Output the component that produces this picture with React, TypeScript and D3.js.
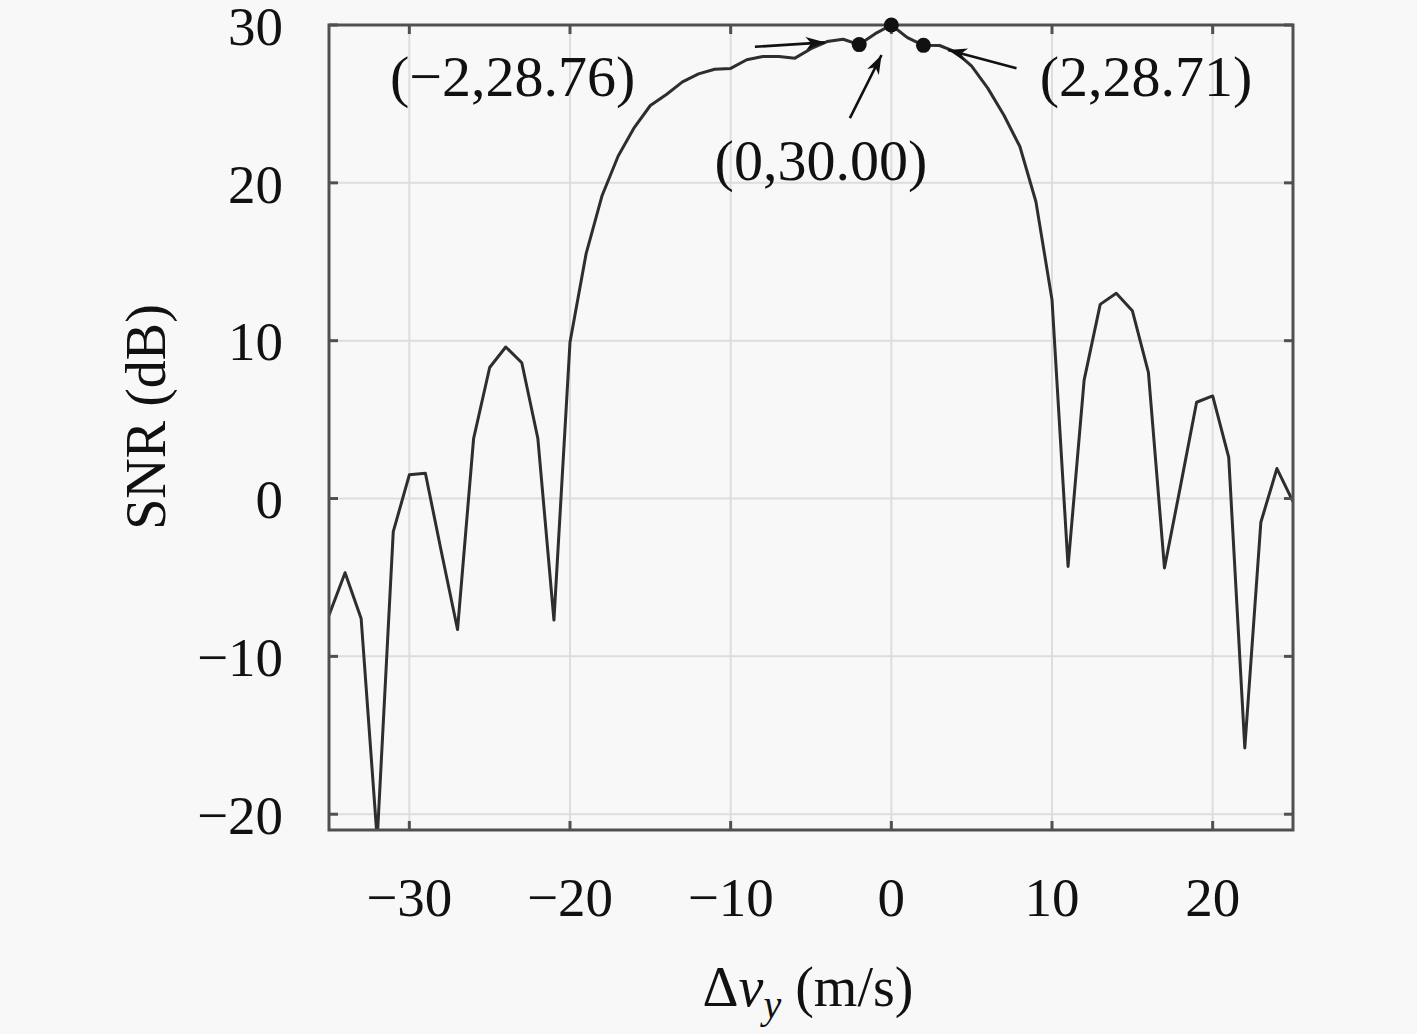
import React from 'react';
import * as d3 from 'd3';

// velocity mismatch (m/s) and SNR (dB)
const dv = [
  -35, -34, -33, -32, -31, -30, -29, -28, -27, -26, -25, -24, -23, -22, -21, -20,
  -19, -18, -17, -16, -15, -14, -13, -12, -11, -10, -9, -8, -7, -6, -5, -4, -3,
  -2, -1, 0, 1, 2, 3, 4, 5, 6, 7, 8, 9, 10, 11, 12, 13, 14, 15, 16, 17, 18, 19,
  20, 21, 22, 23, 24, 25,
];
const snr = [
  -7.4, -4.7, -7.6, -21.6, -2.1, 1.5, 1.6, -3.4, -8.3, 3.8, 8.3, 9.6, 8.6, 3.8, -7.7, 9.9,
  15.5, 19.2, 21.7, 23.5, 24.9, 25.6, 26.4, 26.9, 27.2, 27.25, 27.8, 28.0, 28.0, 27.9, 28.5,
  28.95, 29.1, 28.76, 29.45, 30.0, 29.2, 28.71, 28.7, 28.3, 27.4, 26.0, 24.3, 22.3, 18.8,
  12.6, -4.3, 7.5, 12.3, 13.0, 11.9, 8.0, -4.4, 0.8, 6.1, 6.5, 2.6, -15.8, -1.5, 1.9, -0.2,
];

const xTicks = [-30, -20, -10, 0, 10, 20];
const yTicks = [-20, -10, 0, 10, 20, 30];

// highlighted samples
const markX = [-2, 0, 2];
const markY = [28.76, 30.0, 28.71];

// annotation texts, anchored in data units
const noteText = ['(\u22122,28.76)', '(0,30.00)', '(2,28.71)'];
const noteX = [-31.2, -11.0, 9.24];
const noteY = [25.5, 20.2, 25.5];
// arrow tail -> head
const arrowFrom = [[-8.49, 28.62], [-2.58, 24.1], [7.79, 27.26]];
const arrowTo = [[-4.14, 28.9], [-0.61, 28.1], [3.53, 28.42]];

const W = 1417;
const H = 1034;
const box = { left: 329, right: 1293, top: 25, bottom: 830 };
const font = '"Liberation Serif", "DejaVu Serif", serif';

const fmt = (v: number) => (v < 0 ? '\u2212' + Math.abs(v) : String(v));

function arrowHead(x0: number, y0: number, x1: number, y1: number) {
  const dx = x1 - x0;
  const dy = y1 - y0;
  const len = Math.hypot(dx, dy);
  const ux = dx / len;
  const uy = dy / len;
  const L = 19;
  const w = 6.5;
  const bx = x1 - ux * L;
  const by = y1 - uy * L;
  const nx = x1 - ux * L * 0.72;
  const ny = y1 - uy * L * 0.72;
  return `M${x1},${y1}L${bx - uy * w},${by + ux * w}L${nx},${ny}L${bx + uy * w},${by - ux * w}Z`;
}

export default function App() {
  const x = d3.scaleLinear().domain([-35, 25]).range([box.left, box.right]);
  const y = d3.scaleLinear().domain([-21, 30]).range([box.bottom, box.top]);

  const path = d3
    .line<number>()
    .x((_, i) => x(dv[i]))
    .y((d) => y(d))(snr) as string;

  const tick = 9;

  return (
    <svg
      width={W}
      height={H}
      viewBox={`0 0 ${W} ${H}`}
      style={{ position: 'absolute', left: 0, top: 0, display: 'block' }}
      fontFamily={font}
    >
      <defs>
        <clipPath id="plotClip">
          <rect x={box.left} y={box.top - 2} width={box.right - box.left} height={box.bottom - box.top + 2} />
        </clipPath>
      </defs>
      <rect width={W} height={H} fill="#f8f8f8" />

      {/* grid */}
      <g stroke="#dddddd" strokeWidth={2}>
        {xTicks.map((t) => (
          <line key={'gx' + t} x1={x(t)} x2={x(t)} y1={box.top} y2={box.bottom} />
        ))}
        {yTicks.map((t) => (
          <line key={'gy' + t} x1={box.left} x2={box.right} y1={y(t)} y2={y(t)} />
        ))}
      </g>

      {/* data line */}
      <path d={path} fill="none" stroke="#2e2e2e" strokeWidth={3} strokeLinejoin="round" clipPath="url(#plotClip)" />

      {/* axes box and ticks */}
      <g stroke="#505050" strokeWidth={3}>
        <rect x={box.left} y={box.top} width={box.right - box.left} height={box.bottom - box.top} fill="none" />
        {xTicks.map((t) => (
          <g key={'tx' + t}>
            <line x1={x(t)} x2={x(t)} y1={box.bottom} y2={box.bottom - tick} />
            <line x1={x(t)} x2={x(t)} y1={box.top} y2={box.top + tick} />
          </g>
        ))}
        {yTicks.map((t) => (
          <g key={'ty' + t}>
            <line x1={box.left} x2={box.left + tick} y1={y(t)} y2={y(t)} />
            <line x1={box.right} x2={box.right - tick} y1={y(t)} y2={y(t)} />
          </g>
        ))}
      </g>

      {/* tick labels */}
      <g fontSize={55} fill="#111">
        {xTicks.map((t) => (
          <text key={'lx' + t} x={x(t)} y={916} textAnchor="middle">
            {fmt(t)}
          </text>
        ))}
        {yTicks.map((t) => (
          <text key={'ly' + t} x={283} y={y(t)} dy="0.36em" textAnchor="end">
            {fmt(t)}
          </text>
        ))}
      </g>

      {/* markers */}
      {markX.map((mx, i) => (
        <circle key={'m' + i} cx={x(mx)} cy={y(markY[i])} r={7.5} fill="#111" />
      ))}

      {/* arrows */}
      {arrowFrom.map((f, i) => {
        const x0 = x(f[0]);
        const y0 = y(f[1]);
        const x1 = x(arrowTo[i][0]);
        const y1 = y(arrowTo[i][1]);
        return (
          <g key={'a' + i}>
            <line x1={x0} y1={y0} x2={x1} y2={y1} stroke="#111" strokeWidth={2.6} />
            <path d={arrowHead(x0, y0, x1, y1)} fill="#111" />
          </g>
        );
      })}

      {/* annotations */}
      <g fontSize={58} fill="#111">
        {noteText.map((s, i) => (
          <text key={'n' + i} x={x(noteX[i])} y={y(noteY[i])}>
            {s}
          </text>
        ))}
      </g>

      {/* axis titles */}
      <text x={808} y={1006} textAnchor="middle" fontSize={56} fill="#111">
        <tspan>Δ</tspan>
        <tspan fontStyle="italic">v</tspan>
        <tspan fontStyle="italic" fontSize={40} dy={12}>y</tspan>
        <tspan dy={-12}> (m/s)</tspan>
      </text>
      <text
        transform="translate(165,417) rotate(-90)"
        textAnchor="middle"
        fontSize={56}
        fill="#111"
      >
        SNR (dB)
      </text>
    </svg>
  );
}
